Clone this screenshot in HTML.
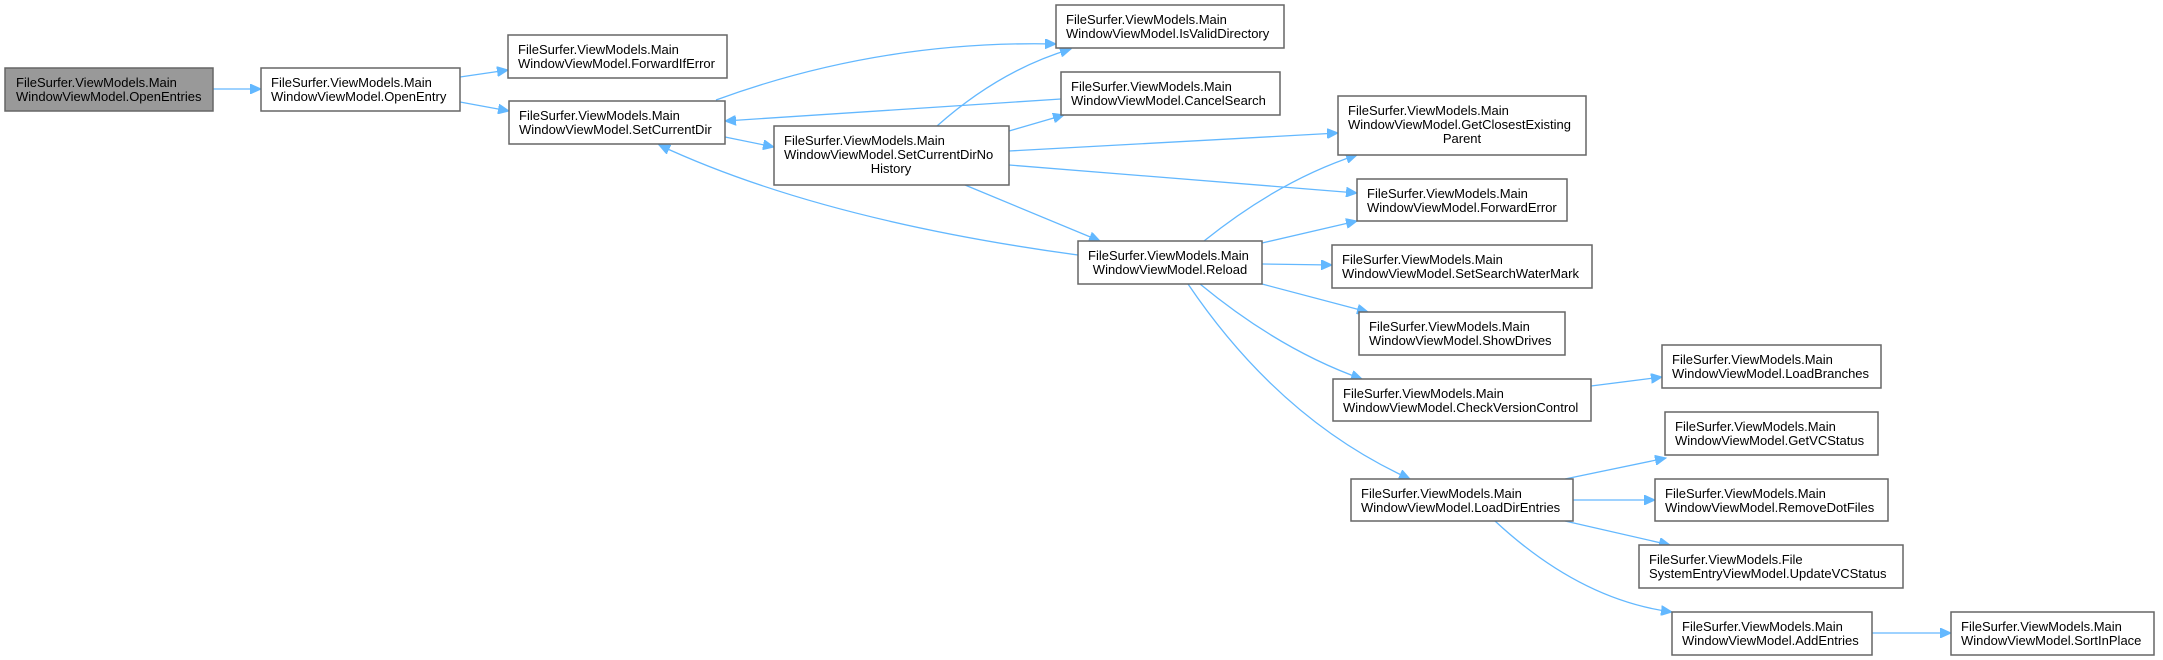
<!DOCTYPE html>
<html><head><meta charset="utf-8"><style>
html,body{margin:0;padding:0;background:#fff;}
svg{display:block;}
text{font-family:"Liberation Sans",Arial,sans-serif;font-size:13px;fill:#000;}
rect{fill:#fff;stroke:#666;stroke-width:1.5;}
path{fill:none;stroke:#63b8ff;stroke-width:1.3;}
</style></head><body>
<svg width="2163" height="660" viewBox="0 0 2163 660" xmlns="http://www.w3.org/2000/svg">
<defs>
<marker id="a" markerUnits="userSpaceOnUse" markerWidth="12" markerHeight="10" refX="11" refY="5" orient="auto">
<path d="M0,0 L11,5 L0,10 Z" style="fill:#63b8ff;stroke:#63b8ff;stroke-width:1"/>
</marker>
</defs>
<g marker-end="url(#a)">
<path d="M213,89 L261,89"/>
<path d="M460,77 L508,70"/>
<path d="M460,102 L509,111"/>
<path d="M716,100 Q880,40 1056,44"/>
<path d="M1061,99 L725,121"/>
<path d="M725,137 L774,147"/>
<path d="M937,126 Q1000,70 1071,49"/>
<path d="M1009,131 L1064,115"/>
<path d="M1009,151 L1338,133"/>
<path d="M1009,165 L1357,193"/>
<path d="M965,185 L1100,241"/>
<path d="M1078,255 Q820,220 659,145"/>
<path d="M1204,241 Q1280,180 1357,155"/>
<path d="M1262,243 L1357,221"/>
<path d="M1262,264 L1332,265"/>
<path d="M1262,284 L1368,312"/>
<path d="M1200,284 Q1280,350 1362,379"/>
<path d="M1188,284 Q1280,420 1410,479"/>
<path d="M1591,386 L1662,377"/>
<path d="M1565,479 L1666,458"/>
<path d="M1573,500 L1655,500"/>
<path d="M1565,521 L1670,545"/>
<path d="M1495,521 Q1580,600 1672,612"/>
<path d="M1872,633 L1951,633"/>
</g>

<rect x="5" y="68" width="208" height="43" style="fill:#999"/>
<text x="16" y="87">FileSurfer.ViewModels.Main</text><text x="16" y="101">WindowViewModel.OpenEntries</text>

<rect x="261" y="68" width="199" height="43"/>
<text x="271" y="87">FileSurfer.ViewModels.Main</text><text x="271" y="101">WindowViewModel.OpenEntry</text>

<rect x="508" y="35" width="219" height="43"/>
<text x="518" y="54">FileSurfer.ViewModels.Main</text><text x="518" y="68">WindowViewModel.ForwardIfError</text>

<rect x="509" y="101" width="216" height="43"/>
<text x="519" y="120">FileSurfer.ViewModels.Main</text><text x="519" y="134">WindowViewModel.SetCurrentDir</text>

<rect x="774" y="126" width="235" height="59"/>
<text x="784" y="145">FileSurfer.ViewModels.Main</text><text x="784" y="159">WindowViewModel.SetCurrentDirNo</text><text x="891" y="173" text-anchor="middle">History</text>

<rect x="1056" y="5" width="228" height="43"/>
<text x="1066" y="24">FileSurfer.ViewModels.Main</text><text x="1066" y="38">WindowViewModel.IsValidDirectory</text>

<rect x="1061" y="72" width="219" height="43"/>
<text x="1071" y="91">FileSurfer.ViewModels.Main</text><text x="1071" y="105">WindowViewModel.CancelSearch</text>

<rect x="1338" y="96" width="248" height="59"/>
<text x="1348" y="115">FileSurfer.ViewModels.Main</text><text x="1348" y="129">WindowViewModel.GetClosestExisting</text><text x="1462" y="143" text-anchor="middle">Parent</text>

<rect x="1357" y="179" width="210" height="42"/>
<text x="1367" y="198">FileSurfer.ViewModels.Main</text><text x="1367" y="212">WindowViewModel.ForwardError</text>

<rect x="1078" y="241" width="184" height="43"/>
<text x="1088" y="260">FileSurfer.ViewModels.Main</text><text x="1170" y="274" text-anchor="middle">WindowViewModel.Reload</text>

<rect x="1332" y="245" width="260" height="43"/>
<text x="1342" y="264">FileSurfer.ViewModels.Main</text><text x="1342" y="278">WindowViewModel.SetSearchWaterMark</text>

<rect x="1359" y="312" width="206" height="43"/>
<text x="1369" y="331">FileSurfer.ViewModels.Main</text><text x="1369" y="345">WindowViewModel.ShowDrives</text>

<rect x="1333" y="379" width="258" height="42"/>
<text x="1343" y="398">FileSurfer.ViewModels.Main</text><text x="1343" y="412">WindowViewModel.CheckVersionControl</text>

<rect x="1662" y="345" width="219" height="43"/>
<text x="1672" y="364">FileSurfer.ViewModels.Main</text><text x="1672" y="378">WindowViewModel.LoadBranches</text>

<rect x="1665" y="412" width="213" height="43"/>
<text x="1675" y="431">FileSurfer.ViewModels.Main</text><text x="1675" y="445">WindowViewModel.GetVCStatus</text>

<rect x="1351" y="479" width="222" height="42"/>
<text x="1361" y="498">FileSurfer.ViewModels.Main</text><text x="1361" y="512">WindowViewModel.LoadDirEntries</text>

<rect x="1655" y="479" width="233" height="42"/>
<text x="1665" y="498">FileSurfer.ViewModels.Main</text><text x="1665" y="512">WindowViewModel.RemoveDotFiles</text>

<rect x="1639" y="545" width="264" height="43"/>
<text x="1649" y="564">FileSurfer.ViewModels.File</text><text x="1649" y="578">SystemEntryViewModel.UpdateVCStatus</text>

<rect x="1672" y="612" width="200" height="43"/>
<text x="1682" y="631">FileSurfer.ViewModels.Main</text><text x="1682" y="645">WindowViewModel.AddEntries</text>

<rect x="1951" y="612" width="203" height="43"/>
<text x="1961" y="631">FileSurfer.ViewModels.Main</text><text x="1961" y="645">WindowViewModel.SortInPlace</text>
</svg>
</body></html>
